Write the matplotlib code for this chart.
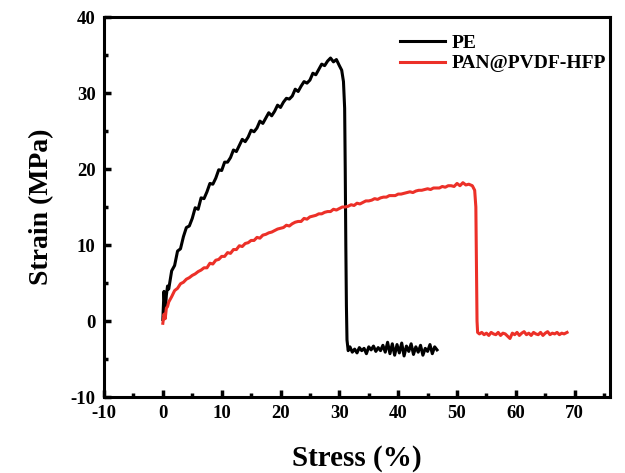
import matplotlib
matplotlib.use('Agg')
import matplotlib.pyplot as plt
from matplotlib.ticker import MultipleLocator

# PE tensile curve
pe_x = [0.0, 0.2, 0.4, 0.6, 0.8, 1.0, 1.5, 2.0, 2.5, 3.0, 3.5, 4.0, 4.5, 5.0, 5.5,
        6.0, 6.5, 7.0, 7.5, 8.0, 8.5, 9.0, 9.5, 10.0, 10.5, 11.0, 11.5, 12.0, 12.5,
        13.0, 13.5, 14.0, 14.5, 15.0, 15.5, 16.0, 16.5, 17.0, 17.5, 18.0, 18.5,
        19.0, 19.5, 20.0, 20.5, 21.0, 21.5, 22.0, 22.5, 23.0, 23.5, 24.0, 24.5,
        25.0, 25.5, 26.0, 26.5, 27.0, 27.5, 28.0, 28.5, 29.0, 29.5, 30.0, 30.4,
        30.7, 30.9, 31.0, 31.1, 31.2, 31.3, 31.5,
        31.8, 32.2, 32.6, 33.0, 33.4, 33.8, 34.2, 34.6, 35.0, 35.4, 35.8, 36.2,
        36.6, 37.0, 37.4, 37.8, 38.2, 38.6, 39.0, 39.4, 39.8, 40.2, 40.6, 41.0,
        41.4, 41.8, 42.2, 42.6, 43.0, 43.4, 43.8, 44.2, 44.6, 45.0, 45.4, 45.8,
        46.2, 46.6]
pe_y = [0.2, 3.9, 1.2, 3.4, 4.6, 4.2, 6.6, 7.3, 9.2, 9.5, 11.1, 12.3, 12.5, 13.5, 14.9,
        14.7, 16.2, 16.1, 17.0, 18.1, 18.0, 18.8, 19.9, 19.8, 20.9, 20.9, 21.5, 22.5, 22.3,
        23.1, 23.9, 23.6, 24.2, 25.1, 24.9, 25.4, 26.3, 26.0, 26.7, 27.4, 27.0,
        27.6, 28.4, 28.1, 28.8, 29.3, 29.2, 29.6, 30.5, 30.2, 30.9, 31.5, 31.3,
        31.7, 32.6, 32.4, 33.1, 33.8, 33.6, 34.2, 34.6, 34.1, 34.4, 33.6, 33.0,
        31.5, 28.0, 20.0, 10.0, 2.0, -2.5, -3.9,
        -3.4, -4.1, -3.7, -4.2, -3.5, -3.9, -3.6, -4.3, -3.4, -3.8, -3.3, -4.0,
        -3.5, -3.9, -3.2, -4.1, -2.8, -4.3, -3.0, -4.5, -3.1, -4.2, -2.9, -4.6,
        -3.3, -4.0, -3.0, -4.4, -3.4, -4.1, -3.2, -4.5, -3.6, -4.0, -3.1, -4.3,
        -3.4, -3.8]

# PAN@PVDF-HFP tensile curve
pan_x = [0.0, 0.2, 0.4, 0.6, 0.8, 1.0, 1.5, 2.0, 2.5, 3.0, 3.5, 4.0, 4.5, 5.0, 5.5,
         6.0, 6.5, 7.0, 7.5, 8.0, 8.5, 9.0, 9.5, 10.0, 10.5, 11.0, 11.5, 12.0, 12.5,
         13.0, 13.5, 14.0, 14.5, 15.0, 15.5, 16.0, 16.5, 17.0, 17.5, 18.0, 18.5,
         19.0, 19.5, 20.0, 20.5, 21.0, 21.5, 22.0, 22.5, 23.0, 23.5, 24.0, 24.5,
         25.0, 25.5, 26.0, 26.5, 27.0, 27.5, 28.0, 28.5, 29.0, 29.5, 30.0, 30.5,
         31.0, 31.5, 32.0, 32.5, 33.0, 33.5, 34.0, 34.5, 35.0, 35.5, 36.0, 36.5,
         37.0, 37.5, 38.0, 38.5, 39.0, 39.5, 40.0, 40.5, 41.0, 41.5, 42.0, 42.5,
         43.0, 43.5, 44.0, 44.5, 45.0, 45.5, 46.0, 46.5, 47.0, 47.5, 48.0, 48.5,
         49.0, 49.5, 50.0, 50.5, 51.0, 51.5, 52.0, 52.6, 53.0, 53.2, 53.3, 53.4,
         53.5, 53.8, 54.2, 54.6, 55.0, 55.4, 55.8, 56.2, 56.6, 57.0, 57.4, 57.8,
         58.2, 58.6, 59.0, 59.4, 59.8, 60.2, 60.6, 61.0, 61.4, 61.8, 62.2, 62.6,
         63.0, 63.4, 63.8, 64.2, 64.6, 65.0, 65.4, 65.8, 66.2, 66.6, 67.0, 67.4,
         67.8, 68.2, 68.7]
pan_y = [-0.3, 0.9, 0.3, 1.7, 1.9, 2.5, 3.2, 4.0, 4.3, 4.9, 5.1, 5.5, 5.7, 6.0, 6.2,
         6.5, 6.7, 7.0, 7.0, 7.6, 7.5, 8.0, 8.1, 8.5, 8.5, 9.0, 8.9, 9.4, 9.4,
         9.9, 9.8, 10.2, 10.3, 10.6, 10.6, 11.0, 10.9, 11.3, 11.4, 11.6, 11.7,
         11.9, 12.1, 12.2, 12.3, 12.6, 12.5, 12.8, 13.0, 13.1, 13.1, 13.5, 13.4,
         13.7, 13.8, 13.9, 14.1, 14.1, 14.3, 14.4, 14.4, 14.7, 14.6, 14.8, 15.0,
         15.0, 15.1, 15.3, 15.2, 15.5, 15.4, 15.6, 15.8, 15.8, 15.9, 16.1, 16.0,
         16.2, 16.3, 16.3, 16.5, 16.5, 16.5, 16.7, 16.7, 16.8, 16.9, 17.0, 16.9,
         17.1, 17.2, 17.2, 17.3, 17.4, 17.3, 17.5, 17.5, 17.5, 17.7, 17.6, 17.8,
         17.8, 17.7, 18.1, 17.8, 18.2, 17.9, 18.0, 17.8, 17.2, 15.0, 8.0, 0.0,
         -1.5, -1.7, -1.5, -1.8, -1.6, -1.9, -1.5, -1.7, -1.8, -1.5, -1.9, -1.6,
         -1.7, -2.0, -2.3, -1.6, -1.8, -1.5, -1.9, -1.6, -1.4, -1.8, -1.6, -1.9,
         -1.5, -1.7, -1.8, -1.5, -1.9, -1.6, -1.4, -1.8, -1.6, -1.7, -1.5, -1.8,
         -1.6, -1.7, -1.5]

plt.rcParams['font.family'] = ['Liberation Serif', 'DejaVu Serif']
plt.rcParams['font.weight'] = 'bold'
plt.rcParams['axes.unicode_minus'] = False

fig = plt.figure(figsize=(6.25, 4.73), dpi=100)
ax = fig.add_axes([104 / 625, 1 - 397 / 473, 506 / 625, 380 / 473])

ax.plot(pe_x, pe_y, color='black', lw=2.2, label='PE')
ax.plot(pan_x, pan_y, color='#ec3028', lw=2.2, label='PAN@PVDF-HFP')

ax.set_xlim(-10, 76)
ax.set_ylim(-10, 40)
ax.xaxis.set_major_locator(MultipleLocator(10))
ax.xaxis.set_minor_locator(MultipleLocator(5))
ax.yaxis.set_major_locator(MultipleLocator(10))
ax.yaxis.set_minor_locator(MultipleLocator(5))
ax.tick_params(which='both', direction='in', top=False, right=False, width=2.5)
ax.tick_params(which='major', length=5, labelsize=13.5, pad=6)
ax.tick_params(which='minor', length=3)
for lab in ax.get_xticklabels() + ax.get_yticklabels():
    lab.set_fontweight('bold')
for s in ax.spines.values():
    s.set_linewidth(2.2)

ax.set_xlabel('Stress (%)', fontsize=21, fontweight='bold', labelpad=16)
ax.set_ylabel('Strain (MPa)', fontsize=20, fontweight='bold', labelpad=12)

leg = ax.legend(loc='upper right', bbox_to_anchor=(1.0, 0.965), frameon=False,
                fontsize=14, handlelength=2.3, handletextpad=0.35, labelspacing=0.15,
                borderpad=0.1, borderaxespad=0.1)
for t in leg.get_texts():
    t.set_fontweight('bold')

fig.savefig('out.png', dpi=100)
